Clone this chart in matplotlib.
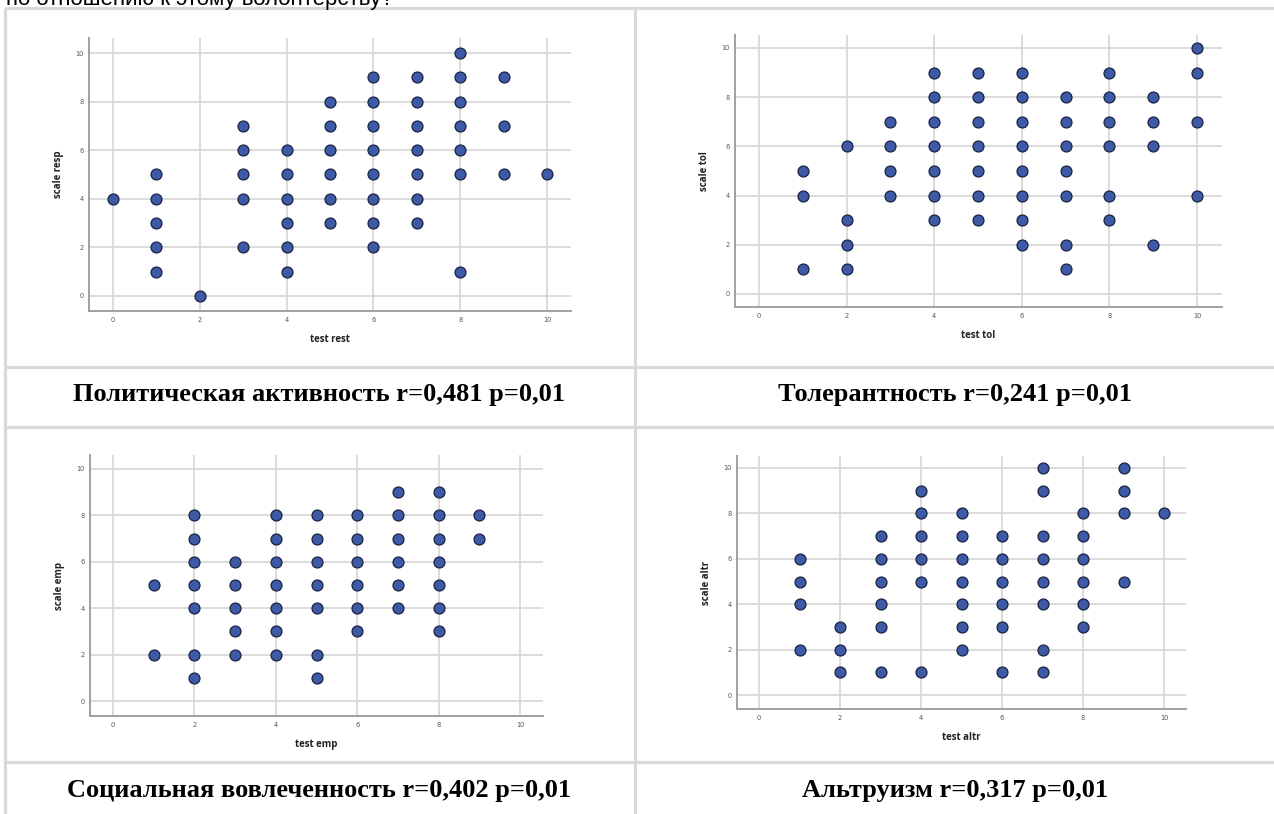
import matplotlib.pyplot as plt

W, H = 1274, 814

# values: y values at each x
resp_by_rest = {0: [4], 1: [5, 4, 3, 2, 1], 2: [0], 3: [7, 6, 5, 4, 2],
                4: [6, 5, 4, 3, 2, 1], 5: [8, 7, 6, 5, 4, 3],
                6: [9, 8, 7, 6, 5, 4, 3, 2], 7: [9, 8, 7, 6, 5, 4, 3],
                8: [10, 9, 8, 7, 6, 5, 1], 9: [9, 7, 5], 10: [5]}
tol_by_test = {1: [5, 4, 1], 2: [6, 3, 2, 1], 3: [7, 6, 5, 4],
               4: [9, 8, 7, 6, 5, 4, 3], 5: [9, 8, 7, 6, 5, 4, 3],
               6: [9, 8, 7, 6, 5, 4, 3, 2], 7: [8, 7, 6, 5, 4, 2, 1],
               8: [9, 8, 7, 6, 4, 3], 9: [8, 7, 6, 2], 10: [10, 9, 7, 4]}
emp_by_test = {1: [5, 2], 2: [8, 7, 6, 5, 4, 2, 1], 3: [6, 5, 4, 3, 2],
               4: [8, 7, 6, 5, 4, 3, 2], 5: [8, 7, 6, 5, 4, 2, 1],
               6: [8, 7, 6, 5, 4, 3], 7: [9, 8, 7, 6, 5, 4],
               8: [9, 8, 7, 6, 5, 4, 3], 9: [8, 7]}
altr_by_test = {1: [6, 5, 4, 2], 2: [3, 2, 1], 3: [7, 6, 5, 4, 3, 1],
                4: [9, 8, 7, 6, 5, 1], 5: [8, 7, 6, 5, 4, 3, 2],
                6: [7, 6, 5, 4, 3, 1], 7: [10, 9, 7, 6, 5, 4, 2, 1],
                8: [8, 7, 6, 5, 4, 3], 9: [10, 9, 8, 5], 10: [8]}

xlabels = ["test rest", "test tol", "test emp", "test altr"]
ylabels = ["scale resp", "scale tol", "scale emp", "scale altr"]
captions = ["Политическая активность r=0,481 p=0,01",
            "Толерантность r=0,241 p=0,01",
            "Социальная вовлеченность r=0,402 p=0,01",
            "Альтруизм r=0,317 p=0,01"]
ticks = [0, 2, 4, 6, 8, 10]

fig = plt.figure(figsize=(W / 100, H / 100), dpi=100)

# background: the table of the document
bg = fig.add_axes([0, 0, 1, 1])
bg.set_xlim(0, W)
bg.set_ylim(H, 0)
bg.axis("off")
line_kw = dict(color="#d9d9d9", lw=2.3, solid_capstyle="butt")
for yy in [8, 367, 427, 762]:
    bg.plot([5, W], [yy, yy], **line_kw)
for xx in [5, 635]:
    bg.plot([xx, xx], [8, H], **line_kw)
bg.text(393, 5, "по отношению к этому волонтерству?", ha="right", va="baseline",
        fontsize=16, family="Liberation Sans", color="black")

# caption centres (px)
cap_pos = [(319, 394), (955, 394), (319, 791), (955, 791)]
for (cx, cy), cap in zip(cap_pos, captions):
    bg.text(cx, cy, cap, ha="center", va="center", fontsize=19,
            family="Liberation Serif", fontweight="bold")

# plot boxes in px: left, top, right, bottom, then px of x=0, x=10, y=0, y=10
boxes = [(89, 38, 571, 311, 113, 547, 296, 53),
         (735, 35, 1222, 307, 759, 1197, 294, 48),
         (90, 455, 543, 716, 113, 520, 701, 469),
         (737, 456, 1186, 709, 759, 1164, 695, 468)]
datasets = [resp_by_rest, tol_by_test, emp_by_test, altr_by_test]

for box, data, xl, yl in zip(boxes, datasets, xlabels, ylabels):
    l, t, r, b, x0, x10, y0, y10 = box
    ax = fig.add_axes([l / W, 1 - b / H, (r - l) / W, (b - t) / H])
    xs = [k for k, v in data.items() for _ in v]
    ys = [y for v in data.values() for y in v]
    ax.scatter(xs, ys, s=62, color="#3d5aa6", edgecolor="#1c2242",
               linewidth=0.9, zorder=3)
    sx = (x10 - x0) / 10
    sy = (y0 - y10) / 10
    ax.set_xlim((l - x0) / sx, (r - x0) / sx)
    ax.set_ylim((y0 - b) / sy, (y0 - t) / sy)
    ax.set_xticks(ticks)
    ax.set_yticks(ticks)
    ax.grid(True, color="#d6d6d6", lw=1.2)
    ax.set_axisbelow(True)
    for s in ["top", "right"]:
        ax.spines[s].set_visible(False)
    for s in ["left", "bottom"]:
        ax.spines[s].set_color("#a0a0a0")
        ax.spines[s].set_linewidth(1.4)
    ax.tick_params(length=0, labelsize=4.8, labelcolor="#555555", pad=4)
    ax.set_xlabel(xl, fontsize=7, fontweight="bold", family="Open Sans",
                  color="#222222", labelpad=8)
    ax.set_ylabel(yl, fontsize=7, fontweight="bold", family="Open Sans",
                  color="#222222", labelpad=8)

fig.savefig("out.png", dpi=100)
